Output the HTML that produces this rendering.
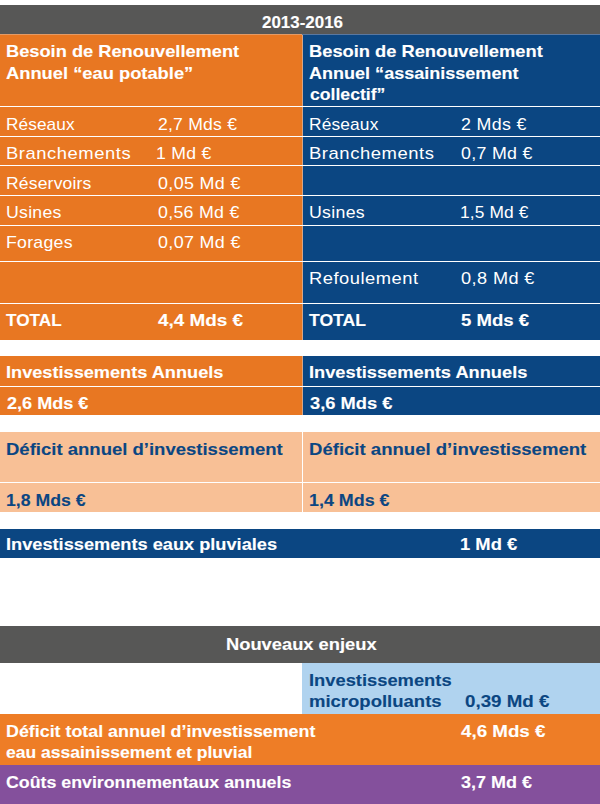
<!DOCTYPE html>
<html><head><meta charset="utf-8"><style>
html,body{margin:0;padding:0;background:#fff;}
body{width:600px;height:804px;position:relative;overflow:hidden;font-family:"Liberation Sans",sans-serif;}
div,span{position:absolute;}
span{white-space:nowrap;line-height:1;transform-origin:0 0;}
</style></head><body>
<div style="left:0px;top:5px;width:600px;height:29px;background:#575756"></div>
<div style="left:0px;top:34px;width:302px;height:1px;background:#e39a66"></div>
<div style="left:302px;top:34px;width:298px;height:1px;background:#5a78a0"></div>
<div style="left:0px;top:35px;width:302px;height:305px;background:#e87722"></div>
<div style="left:302px;top:35px;width:1px;height:305px;background:#d9a583"></div>
<div style="left:303px;top:35px;width:297px;height:305px;background:#0b4682"></div>
<div style="left:0px;top:106px;width:600px;height:1px;background:#ffffff"></div>
<div style="left:0px;top:136px;width:600px;height:1px;background:#ffffff"></div>
<div style="left:0px;top:165px;width:600px;height:1px;background:#ffffff"></div>
<div style="left:0px;top:195px;width:600px;height:1px;background:#ffffff"></div>
<div style="left:0px;top:225px;width:600px;height:1px;background:#ffffff"></div>
<div style="left:0px;top:261px;width:600px;height:1px;background:#ffffff"></div>
<div style="left:0px;top:303px;width:600px;height:1px;background:#ffffff"></div>
<div style="left:0px;top:356px;width:302px;height:59px;background:#e87722"></div>
<div style="left:302px;top:356px;width:1px;height:59px;background:#d9a583"></div>
<div style="left:303px;top:356px;width:297px;height:59px;background:#0b4682"></div>
<div style="left:0px;top:386px;width:600px;height:1px;background:#ffffff"></div>
<div style="left:0px;top:432px;width:302px;height:80px;background:#f8c096"></div>
<div style="left:302px;top:432px;width:1px;height:80px;background:#ffffff"></div>
<div style="left:303px;top:432px;width:297px;height:80px;background:#f8c096"></div>
<div style="left:0px;top:482px;width:600px;height:1px;background:#ffffff"></div>
<div style="left:0px;top:529px;width:600px;height:29px;background:#0b4682"></div>
<div style="left:0px;top:626px;width:600px;height:37px;background:#575756"></div>
<div style="left:302px;top:663px;width:298px;height:51px;background:#b0d3ef"></div>
<div style="left:0px;top:714px;width:600px;height:51px;background:#ee7d26"></div>
<div style="left:0px;top:765px;width:600px;height:39px;background:#84509c"></div>
<span style="left:262.00px;top:14.00px;font-size:17.0px;font-weight:bold;color:#ffffff;letter-spacing:0.000px;transform:scaleX(0.9958);-webkit-text-stroke:0.12px ">2013-2016</span>
<span style="left:5.93px;top:43.00px;font-size:17.0px;font-weight:bold;color:#ffffff;letter-spacing:0.000px;transform:scaleX(1.0733);-webkit-text-stroke:0.12px ">Besoin de Renouvellement</span>
<span style="left:5.80px;top:65.00px;font-size:17.0px;font-weight:bold;color:#ffffff;letter-spacing:0.000px;transform:scaleX(1.0774);-webkit-text-stroke:0.12px ">Annuel “eau potable”</span>
<span style="left:309.22px;top:43.00px;font-size:17.0px;font-weight:bold;color:#ffffff;letter-spacing:0.000px;transform:scaleX(1.0757);-webkit-text-stroke:0.12px ">Besoin de Renouvellement</span>
<span style="left:308.80px;top:65.00px;font-size:17.0px;font-weight:bold;color:#ffffff;letter-spacing:0.000px;transform:scaleX(1.0607);-webkit-text-stroke:0.12px ">Annuel “assainissement</span>
<span style="left:309.50px;top:86.00px;font-size:17.0px;font-weight:bold;color:#ffffff;letter-spacing:0.000px;transform:scaleX(1.0368);-webkit-text-stroke:0.12px ">collectif”</span>
<span style="left:5.99px;top:116.00px;font-size:17.0px;font-weight:normal;color:#ffffff;letter-spacing:0.092px;transform:scaleX(1.0127)">Réseaux</span>
<span style="left:157.50px;top:116.00px;font-size:17.0px;font-weight:normal;color:#ffffff;letter-spacing:0.208px;transform:scaleX(1.0344)">2,7 Mds €</span>
<span style="left:5.92px;top:145.00px;font-size:17.0px;font-weight:normal;color:#ffffff;letter-spacing:0.500px;transform:scaleX(1.0826)">Branchements</span>
<span style="left:155.96px;top:145.00px;font-size:17.0px;font-weight:normal;color:#ffffff;letter-spacing:0.249px;transform:scaleX(1.0377)">1 Md €</span>
<span style="left:5.97px;top:175.00px;font-size:17.0px;font-weight:normal;color:#ffffff;letter-spacing:0.175px;transform:scaleX(1.0306)">Réservoirs</span>
<span style="left:157.50px;top:175.00px;font-size:17.0px;font-weight:normal;color:#ffffff;letter-spacing:0.325px;transform:scaleX(1.0540)">0,05 Md €</span>
<span style="left:5.96px;top:204.00px;font-size:17.0px;font-weight:normal;color:#ffffff;letter-spacing:0.257px;transform:scaleX(1.0397)">Usines</span>
<span style="left:157.50px;top:204.00px;font-size:17.0px;font-weight:normal;color:#ffffff;letter-spacing:0.280px;transform:scaleX(1.0461)">0,56 Md €</span>
<span style="left:5.96px;top:234.00px;font-size:17.0px;font-weight:normal;color:#ffffff;letter-spacing:0.265px;transform:scaleX(1.0408)">Forages</span>
<span style="left:157.50px;top:234.00px;font-size:17.0px;font-weight:normal;color:#ffffff;letter-spacing:0.325px;transform:scaleX(1.0540)">0,07 Md €</span>
<span style="left:6.20px;top:312.00px;font-size:17.0px;font-weight:bold;color:#ffffff;letter-spacing:0.000px;transform:scaleX(1.0110);-webkit-text-stroke:0.12px ">TOTAL</span>
<span style="left:157.50px;top:312.00px;font-size:17.0px;font-weight:bold;color:#ffffff;letter-spacing:0.000px;transform:scaleX(1.1125);-webkit-text-stroke:0.12px ">4,4 Mds €</span>
<span style="left:309.18px;top:116.00px;font-size:17.0px;font-weight:normal;color:#ffffff;letter-spacing:0.144px;transform:scaleX(1.0199)">Réseaux</span>
<span style="left:461.00px;top:116.00px;font-size:17.0px;font-weight:normal;color:#ffffff;letter-spacing:0.317px;transform:scaleX(1.0490)">2 Mds €</span>
<span style="left:309.12px;top:145.00px;font-size:17.0px;font-weight:normal;color:#ffffff;letter-spacing:0.512px;transform:scaleX(1.0848)">Branchements</span>
<span style="left:461.00px;top:145.00px;font-size:17.0px;font-weight:normal;color:#ffffff;letter-spacing:0.289px;transform:scaleX(1.0477)">0,7 Md €</span>
<span style="left:309.16px;top:204.00px;font-size:17.0px;font-weight:normal;color:#ffffff;letter-spacing:0.279px;transform:scaleX(1.0432)">Usines</span>
<span style="left:459.98px;top:204.00px;font-size:17.0px;font-weight:normal;color:#ffffff;letter-spacing:0.129px;transform:scaleX(1.0211)">1,5 Md €</span>
<span style="left:309.12px;top:270.00px;font-size:17.0px;font-weight:normal;color:#ffffff;letter-spacing:0.465px;transform:scaleX(1.0786)">Refoulement</span>
<span style="left:461.00px;top:270.00px;font-size:17.0px;font-weight:normal;color:#ffffff;letter-spacing:0.392px;transform:scaleX(1.0657)">0,8 Md €</span>
<span style="left:309.30px;top:312.00px;font-size:17.0px;font-weight:bold;color:#ffffff;letter-spacing:0.000px;transform:scaleX(1.0329);-webkit-text-stroke:0.12px ">TOTAL</span>
<span style="left:461.00px;top:312.00px;font-size:17.0px;font-weight:bold;color:#ffffff;letter-spacing:0.000px;transform:scaleX(1.0906);-webkit-text-stroke:0.12px ">5 Mds €</span>
<span style="left:5.93px;top:364.00px;font-size:17.0px;font-weight:bold;color:#ffffff;letter-spacing:0.000px;transform:scaleX(1.0685);-webkit-text-stroke:0.12px ">Investissements Annuels</span>
<span style="left:7.00px;top:395.00px;font-size:17.0px;font-weight:bold;color:#ffffff;letter-spacing:0.000px;transform:scaleX(1.0638);-webkit-text-stroke:0.12px ">2,6 Mds €</span>
<span style="left:308.93px;top:364.00px;font-size:17.0px;font-weight:bold;color:#ffffff;letter-spacing:0.000px;transform:scaleX(1.0734);-webkit-text-stroke:0.12px ">Investissements Annuels</span>
<span style="left:310.00px;top:395.00px;font-size:17.0px;font-weight:bold;color:#ffffff;letter-spacing:0.000px;transform:scaleX(1.0768);-webkit-text-stroke:0.12px ">3,6 Mds €</span>
<span style="left:5.91px;top:441.00px;font-size:17.0px;font-weight:bold;color:#0b4682;letter-spacing:0.000px;transform:scaleX(1.0889);-webkit-text-stroke:0.12px ">Déficit annuel d’investissement</span>
<span style="left:5.96px;top:492.00px;font-size:17.0px;font-weight:bold;color:#0b4682;letter-spacing:0.000px;transform:scaleX(1.0384);-webkit-text-stroke:0.12px ">1,8 Mds €</span>
<span style="left:308.91px;top:441.00px;font-size:17.0px;font-weight:bold;color:#0b4682;letter-spacing:0.000px;transform:scaleX(1.0909);-webkit-text-stroke:0.12px ">Déficit annuel d’investissement</span>
<span style="left:308.95px;top:492.00px;font-size:17.0px;font-weight:bold;color:#0b4682;letter-spacing:0.000px;transform:scaleX(1.0515);-webkit-text-stroke:0.12px ">1,4 Mds €</span>
<span style="left:5.93px;top:536.00px;font-size:17.0px;font-weight:bold;color:#ffffff;letter-spacing:0.000px;transform:scaleX(1.0704);-webkit-text-stroke:0.12px ">Investissements eaux pluviales</span>
<span style="left:459.72px;top:536.00px;font-size:17.0px;font-weight:bold;color:#ffffff;letter-spacing:0.000px;transform:scaleX(1.0811);-webkit-text-stroke:0.12px ">1 Md €</span>
<span style="left:226.42px;top:636.00px;font-size:17.0px;font-weight:bold;color:#ffffff;letter-spacing:0.000px;transform:scaleX(1.0770);-webkit-text-stroke:0.12px ">Nouveaux enjeux</span>
<span style="left:308.92px;top:672.00px;font-size:17.0px;font-weight:bold;color:#0b4682;letter-spacing:0.000px;transform:scaleX(1.0777);-webkit-text-stroke:0.12px ">Investissements</span>
<span style="left:308.91px;top:693.00px;font-size:17.0px;font-weight:bold;color:#0b4682;letter-spacing:0.000px;transform:scaleX(1.0881);-webkit-text-stroke:0.12px ">micropolluants</span>
<span style="left:465.00px;top:693.00px;font-size:17.0px;font-weight:bold;color:#0b4682;letter-spacing:-0.000px;transform:scaleX(1.1028);-webkit-text-stroke:0.12px ">0,39 Md €</span>
<span style="left:5.95px;top:723.00px;font-size:17.0px;font-weight:bold;color:#ffffff;letter-spacing:0.000px;transform:scaleX(1.0497);-webkit-text-stroke:0.12px ">Déficit total annuel d’investissement</span>
<span style="left:6.20px;top:744.00px;font-size:17.0px;font-weight:bold;color:#ffffff;letter-spacing:-0.000px;transform:scaleX(1.0301);-webkit-text-stroke:0.12px ">eau assainissement et pluvial</span>
<span style="left:461.25px;top:723.00px;font-size:17.0px;font-weight:bold;color:#ffffff;letter-spacing:-0.000px;transform:scaleX(1.1028);-webkit-text-stroke:0.12px ">4,6 Mds €</span>
<span style="left:6.20px;top:774.00px;font-size:17.0px;font-weight:bold;color:#ffffff;letter-spacing:0.000px;transform:scaleX(1.0450);-webkit-text-stroke:0.12px ">Coûts environnementaux annuels</span>
<span style="left:461.00px;top:774.00px;font-size:17.0px;font-weight:bold;color:#ffffff;letter-spacing:0.000px;transform:scaleX(1.0573);-webkit-text-stroke:0.12px ">3,7 Md €</span>
</body></html>
